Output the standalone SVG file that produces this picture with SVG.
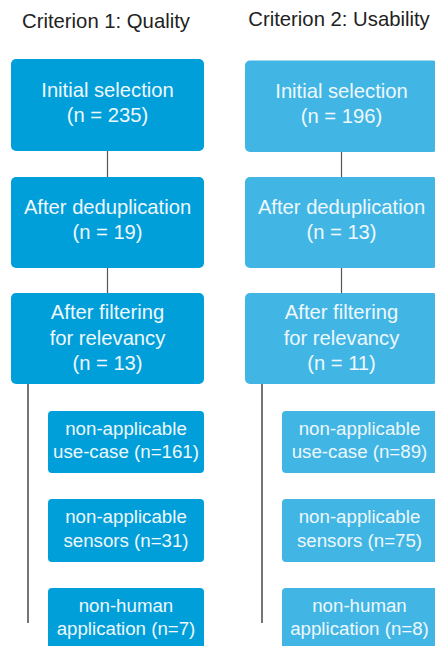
<svg xmlns="http://www.w3.org/2000/svg" width="435" height="646" viewBox="0 0 435 646">
<style>
.title{font-family:"Liberation Sans",Arial,sans-serif;font-size:20.3px;fill:#222;text-anchor:middle}
.t{font-family:"Liberation Sans",Arial,sans-serif;font-size:20.2px;fill:#eef8fd;text-anchor:middle}
.s{font-family:"Liberation Sans",Arial,sans-serif;font-size:18.7px;fill:#eef8fd;text-anchor:middle}
.c1{fill:#009fda}
.c2{fill:#41b6e4}
.ln{stroke:#555;stroke-width:1.2;fill:none}
.vl{stroke:#666;stroke-width:1.8;fill:none}
</style>
<rect width="435" height="646" fill="#fff"/>
<text class="title" x="106" y="28">Criterion 1: Quality</text>
<text class="title" x="339" y="26">Criterion 2: Usability</text>
<g id="connectors">
<line class="ln" x1="107.5" y1="151" x2="107.5" y2="177"/>
<line class="ln" x1="107.5" y1="268" x2="107.5" y2="293"/>
<line class="vl" x1="28" y1="384" x2="28" y2="623"/>
<line class="ln" x1="341.5" y1="152" x2="341.5" y2="177"/>
<line class="ln" x1="341.5" y1="268" x2="341.5" y2="293"/>
<line class="vl" x1="262" y1="384" x2="262" y2="623"/>
</g>
<g id="q-initial"><rect class="c1" x="11" y="59" width="193" height="92" rx="5"/><text class="t" x="107.5" y="97">Initial selection</text><text class="t" x="107.5" y="122">(n = 235)</text></g>
<g id="q-dedup"><rect class="c1" x="11" y="177" width="193" height="91" rx="5"/><text class="t" x="107.5" y="214">After deduplication</text><text class="t" x="107.5" y="239">(n = 19)</text></g>
<g id="q-filter"><rect class="c1" x="11" y="293" width="193" height="91" rx="5"/><text class="t" x="107.5" y="319">After filtering</text><text class="t" x="107.5" y="344.5">for relevancy</text><text class="t" x="107.5" y="370">(n = 13)</text></g>
<g id="q-usecase"><rect class="c1" x="48" y="411" width="156" height="62" rx="4"/><text class="s" x="126" y="435">non-applicable</text><text class="s" x="126" y="458">use-case (n=161)</text></g>
<g id="q-sensors"><rect class="c1" x="48" y="499" width="156" height="63" rx="4"/><text class="s" x="126" y="523">non-applicable</text><text class="s" x="126" y="547">sensors (n=31)</text></g>
<g id="q-nonhuman"><rect class="c1" x="48" y="588" width="156" height="64" rx="4"/><text class="s" x="126" y="612">non-human</text><text class="s" x="126" y="635">application (n=7)</text></g>
<g id="u-initial"><rect class="c2" x="245" y="60.5" width="193" height="91.5" rx="5"/><text class="t" x="341.5" y="98">Initial selection</text><text class="t" x="341.5" y="123">(n = 196)</text></g>
<g id="u-dedup"><rect class="c2" x="245" y="177" width="193" height="91" rx="5"/><text class="t" x="341.5" y="214">After deduplication</text><text class="t" x="341.5" y="239">(n = 13)</text></g>
<g id="u-filter"><rect class="c2" x="245" y="293" width="193" height="91" rx="5"/><text class="t" x="341.5" y="319">After filtering</text><text class="t" x="341.5" y="344.5">for relevancy</text><text class="t" x="341.5" y="370">(n = 11)</text></g>
<g id="u-usecase"><rect class="c2" x="282" y="411" width="156" height="62" rx="4"/><text class="s" x="359.5" y="435">non-applicable</text><text class="s" x="359.5" y="458">use-case (n=89)</text></g>
<g id="u-sensors"><rect class="c2" x="282" y="499" width="156" height="63" rx="4"/><text class="s" x="359.5" y="523">non-applicable</text><text class="s" x="359.5" y="547">sensors (n=75)</text></g>
<g id="u-nonhuman"><rect class="c2" x="282" y="588" width="156" height="64" rx="4"/><text class="s" x="359.5" y="612">non-human</text><text class="s" x="359.5" y="635">application (n=8)</text></g>
</svg>
